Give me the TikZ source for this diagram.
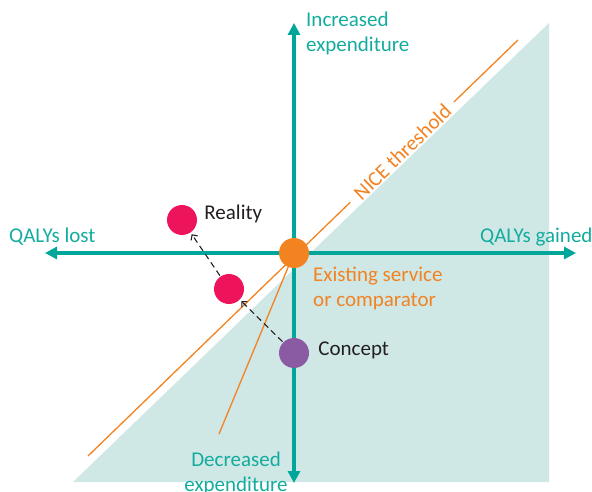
\documentclass[tikz,border=0pt]{standalone}
\usepackage{fontspec}
\setmainfont{Carlito}
\usepackage{xcolor}
\usepackage{tikz}
\usetikzlibrary{arrows.meta}
\usetikzlibrary{positioning}
\definecolor{axisteal}{RGB}{0,166,153}
\definecolor{shadeteal}{RGB}{207,232,230}
\definecolor{niceorange}{RGB}{243,130,33}
\definecolor{dotred}{RGB}{237,20,92}
\definecolor{dotpurple}{RGB}{138,90,163}
\definecolor{labelteal}{RGB}{20,172,158}
\definecolor{darktext}{RGB}{35,31,32}
\tikzset{
    ce_dot/.style = {circle, inner sep=0pt, minimum size=30pt, draw=none},
    orange_dot/.style = {ce_dot, fill=niceorange},
    red_dot/.style = {ce_dot, fill=dotred},
    purple_dot/.style = {ce_dot, fill=dotpurple},
    axis_line/.style = {draw=axisteal, line width=3.5pt, {Triangle[length=12pt,width=12pt]}-{Triangle[length=12pt,width=12pt]}},
    thr_line/.style = {draw=niceorange, line width=1.3pt},
    move_arrow/.style = {draw=darktext, line width=1.1pt, dash pattern=on 6pt off 4pt, ->, shorten >=2pt, shorten <=1pt}
}
\tikzset{
    txt/.style = {inner sep=0pt, font=\fontsize{21}{24.5}\selectfont},
    teal_txt/.style = {txt, text=labelteal},
    orange_txt/.style = {txt, text=niceorange},
    dark_txt/.style = {txt, text=darktext}
}
\begin{document}
\begin{tikzpicture}
    [x=1pt, y=-1pt, >={Straight Barb[length=4pt,width=8pt]}]
    \useasboundingbox (0,0) rectangle (592,492);

    \fill[shadeteal] (73,482) -- (549,23) -- (549,482) -- cycle;

    \coordinate (origin) at (294,253);
    \coordinate (thr_lo) at (88,456);
    \coordinate (thr_hi) at (518,40);
    \coordinate (slant_end) at (219,434);
    \coordinate (q_lost) at (45,253);
    \coordinate (q_gained) at (576,253);
    \coordinate (exp_up) at (294,23);
    \coordinate (exp_down) at (294,483);

    \path (thr_lo) -- (thr_hi)
        coordinate[pos=0.61] (thr_a)
        coordinate[pos=0.851] (thr_b)
        node[orange_txt, pos=0.731, sloped] (thr_lbl) {NICE threshold};
    \draw[thr_line] (thr_lo) -- (thr_a);
    \draw[thr_line] (thr_b) -- (thr_hi);
    \draw[thr_line] (origin) -- (slant_end);

    \draw[axis_line] (q_lost) -- (q_gained);
    \draw[axis_line] (exp_down) -- (exp_up);

    \node[orange_dot] (existing) at (origin) {};
    \node[purple_dot] (concept) at (294,353) {};
    \node[red_dot] (shifted) at (229,289) {};
    \node[red_dot] (reality) at (182,220) {};

    \draw[move_arrow] (concept) -- (shifted);
    \draw[move_arrow] (shifted) -- (reality);

    \node[teal_txt, anchor=base west] (lost_lbl) at (9,242) {QALYs lost};
    \node[teal_txt, anchor=base west] (gained_lbl) at (480,242) {QALYs gained};
    \node[teal_txt, anchor=north west, align=left] (up_lbl) at (306,12) {Increased\\expenditure};
    \node[teal_txt, anchor=north, align=center] (down_lbl) at (236,452) {Decreased\\expenditure};
    \node[dark_txt, right=7pt of reality, yshift=6pt] (reality_lbl) {Reality};
    \node[dark_txt, right=9pt of concept, yshift=2.5pt] (concept_lbl) {Concept};
    \node[orange_txt, anchor=north west, align=left] (existing_lbl) at (313,267) {Existing service\\or comparator};
\end{tikzpicture}
\end{document}
